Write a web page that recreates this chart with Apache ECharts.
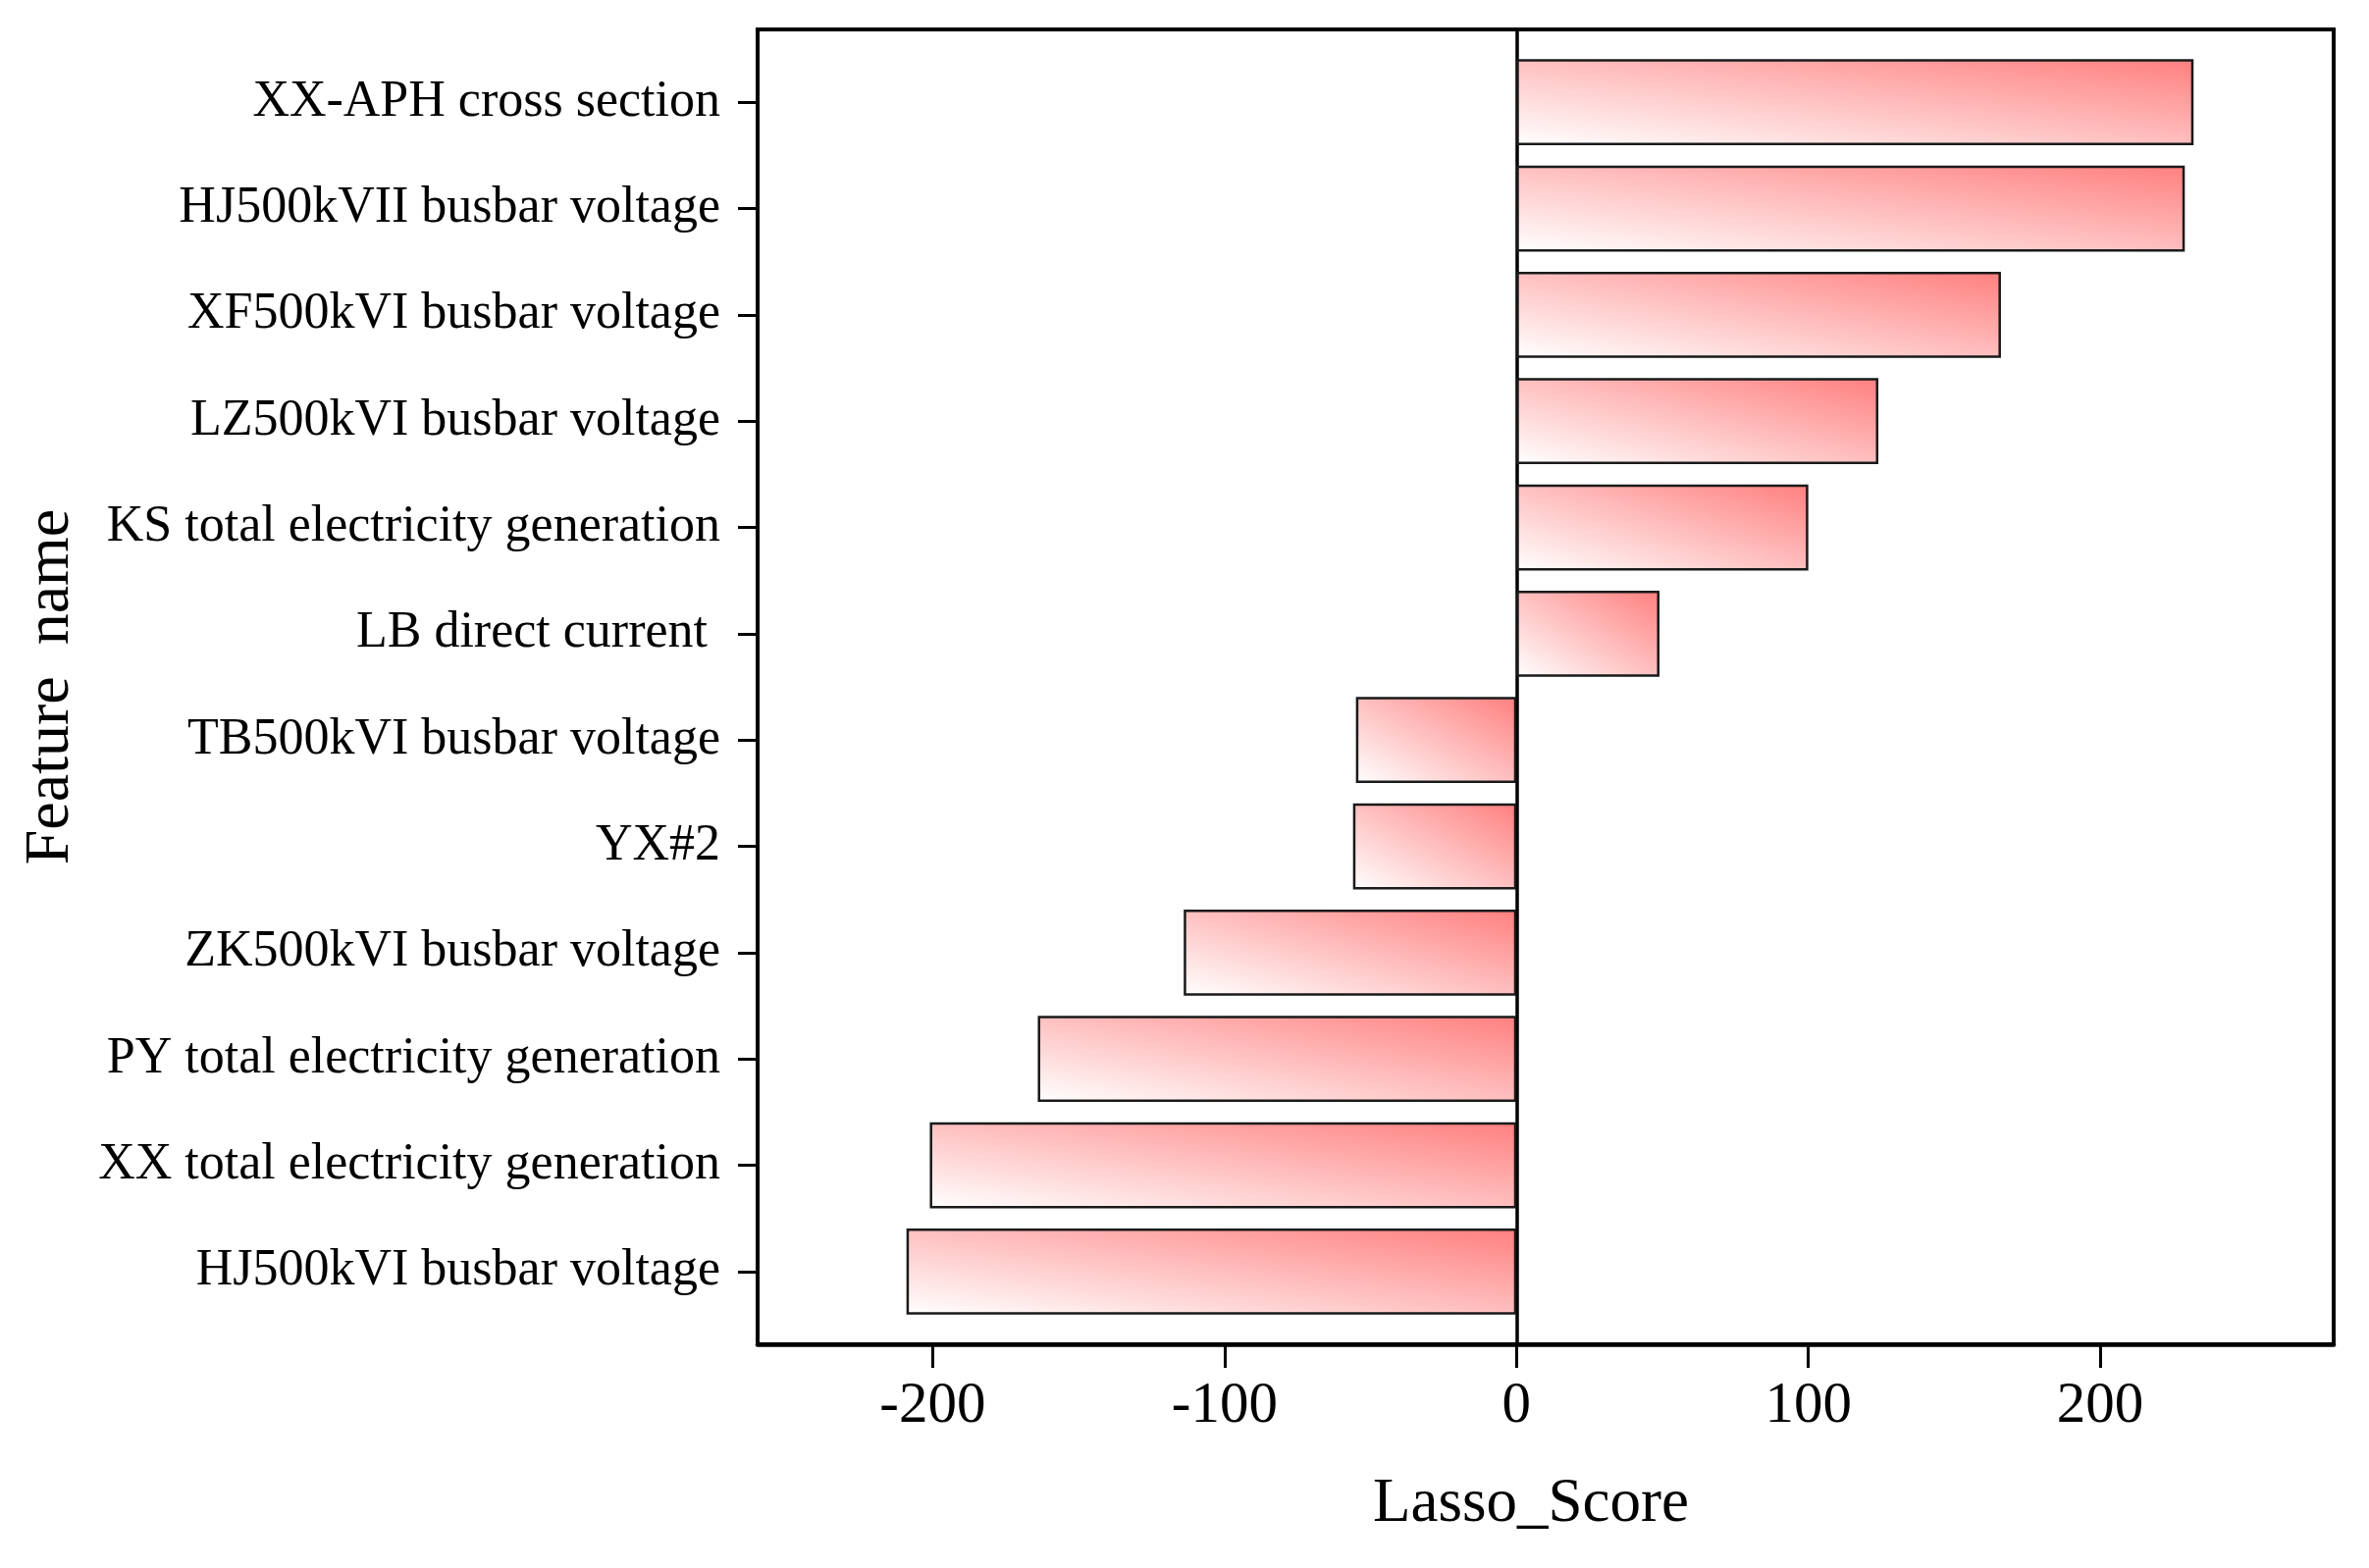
<!DOCTYPE html>
<html>
<head>
<meta charset="utf-8">
<script src="https://cdn.jsdelivr.net/npm/echarts@6/dist/echarts.min.js"></script>
<style>
html, body { margin: 0; padding: 0; background: #fff; }
#chart { width: 2414px; height: 1598px; }
</style>
</head>
<body>
<div id="chart"></div>
<script>
// ---- data ----
const categories = [
  'XX-APH cross section',
  'HJ500kVII busbar voltage',
  'XF500kVI busbar voltage',
  'LZ500kVI busbar voltage',
  'KS total electricity generation',
  'LB direct current ',
  'TB500kVI busbar voltage',
  'YX#2',
  'ZK500kVI busbar voltage',
  'PY total electricity generation',
  'XX total electricity generation',
  'HJ500kVI busbar voltage'
];
const scores = [232, 229, 166, 124, 100, 49, -55, -56, -114, -164, -201, -209];
const xTicks = [-200, -100, 0, 100, 200];
const xMin = -260, xMax = 280;
const xName = 'Lasso_Score';
const yName = 'Feature  name';

// ---- layout ----
const FONT = '"Liberation Serif", "Times New Roman", serif';
const plotLeft = 772, plotWidth = 1606;
const frameTop = 30, frameHeight = 1340;
const barsTop = 50, barsHeight = 1300;
const barRatio = 0.81;

const chart = echarts.init(document.getElementById('chart'), null, { renderer: 'canvas' });

const pxPerUnit = plotWidth / (xMax - xMin);
const barH = barsHeight / categories.length * barRatio;

// diagonal gradient in the bar's own normalized box (white bottom-left -> red top-right)
function barFill(params) {
  const W = Math.max(1, Math.abs(params.value) * pxPerUnit);
  const H = barH;
  const a = 1 / (W * W), b = 1 / (H * H);
  const x2 = 2 * a / (a + b);
  const y2 = 1 - 2 * b / (a + b);
  return new echarts.graphic.LinearGradient(0, 1, x2, y2, [
    { offset: 0, color: '#ffffff' },
    { offset: 1, color: '#ff7f7f' }
  ]);
}

const option = {
  animation: false,
  backgroundColor: '#ffffff',
  grid: [
    { left: plotLeft, top: frameTop, width: plotWidth, height: frameHeight,
      show: true, borderColor: '#000', borderWidth: 4, backgroundColor: 'transparent' },
    { left: plotLeft, top: barsTop, width: plotWidth, height: barsHeight }
  ],
  xAxis: [
    {
      gridIndex: 0, type: 'value', min: xMin, max: xMax,
      splitLine: { show: false },
      axisLine: { show: true, onZero: false, lineStyle: { color: '#000', width: 4.5 } },
      axisTick: { show: true, customValues: xTicks, length: 24, lineStyle: { color: '#000', width: 3 } },
      axisLabel: { customValues: xTicks, margin: 34, fontSize: 59, fontFamily: FONT, color: '#000' },
      name: xName, nameLocation: 'middle', nameGap: 132,
      nameTextStyle: { fontSize: 63, fontFamily: FONT, color: '#000', padding: [0, 30, 0, 0] }
    },
    { gridIndex: 1, type: 'value', min: xMin, max: xMax, show: false }
  ],
  yAxis: [
    {
      gridIndex: 0, type: 'value', min: 0, max: 1,
      axisLine: { show: true, onZero: true, lineStyle: { color: '#000', width: 3.5 } },
      axisTick: { show: false }, axisLabel: { show: false }, splitLine: { show: false }
    },
    {
      gridIndex: 1, type: 'category', data: categories, inverse: true,
      axisLine: { show: false, onZero: false },
      axisTick: { show: true, alignWithLabel: true, length: 20, lineStyle: { color: '#000', width: 3 } },
      axisLabel: { interval: 0, margin: 38, fontSize: 52, fontFamily: FONT, color: '#000' },
      name: yName, nameLocation: 'middle', nameRotate: 90, nameGap: 688,
      nameTextStyle: { fontSize: 64, fontFamily: FONT, color: '#000' }
    }
  ],
  series: [
    {
      type: 'bar', xAxisIndex: 1, yAxisIndex: 1,
      data: scores,
      barWidth: (barRatio * 100) + '%',
      itemStyle: { color: barFill, borderColor: '#1a1a1a', borderWidth: 2.5 }
    }
  ]
};
chart.setOption(option);
</script>
</body>
</html>
